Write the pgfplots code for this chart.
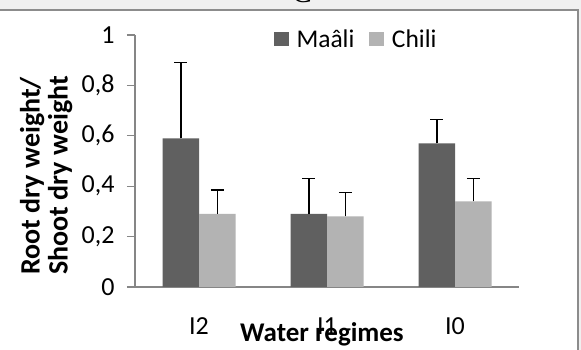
\documentclass[border=0pt]{standalone}
\usepackage{fontspec}
\setmainfont{Carlito}
\newfontfamily\seriffont{Liberation Serif}
\usepackage{pgfplots}
\pgfplotsset{compat=1.18}
\definecolor{dk}{HTML}{606060}
\definecolor{lt}{HTML}{B3B3B3}
\definecolor{ax}{HTML}{868686}
\definecolor{bg}{HTML}{F0F0F0}
\definecolor{fr}{HTML}{8C8C8C}
\pgfplotsset{
  sqlegend/.style={legend image code/.code={\fill[##1] (0pt,-7pt) rectangle (14.5pt,7.5pt);}}
}
\begin{document}
\begin{tikzpicture}[x=1pt,y=1pt]
\clip (0,0) rectangle (581,350);
\fill[bg] (0,0) rectangle (581,350);
\node[anchor=base, inner sep=0pt] at (302,347) {\seriffont\fontsize{30}{30}\selectfont C};
\filldraw[fill=white, draw=fr, line width=2pt] (-5,-10) rectangle (578,339.5);
\begin{axis}[
  at={(135pt,63pt)}, anchor=south west,
  scale only axis, width=384pt, height=252pt,
  xmin=-0.5, xmax=2.5, ymin=0, ymax=1,
  ybar=0pt, bar width=36.5pt,
  axis x line*=bottom, axis y line*=left,
  x axis line style={-}, y axis line style={-},
  axis line style={ax, line width=1.2pt},
  tick align=outside,
  xtick={0,1,2}, xticklabels={I2,I1,I0},
  major x tick style={draw=none},
  extra x ticks={-0.5,0.5,1.5,2.5}, extra x tick labels={},
  extra x tick style={major tick length=9pt, tick style={ax, line width=1.2pt}},
  ytick={0,0.2,0.4,0.6,0.8,1},
  major y tick style={ax, line width=1.2pt},
  major tick length=8pt,
  ticklabel style={font=\fontsize{26}{30}\selectfont, text=black},
  xticklabel style={yshift=-19pt},
  yticklabel style={xshift=-9pt},
  /pgf/number format/.cd, use comma, assume math mode=true, /pgfplots/.cd,
  xlabel={Water regimes},
  xlabel style={font=\bfseries\fontsize{27}{30}\selectfont, at={(axis description cs:0.487,-0.218)}, anchor=base},
  ylabel={Root dry weight/\\Shoot dry weight},
  ylabel style={font=\bfseries\fontsize{28}{28}\selectfont, align=left, inner sep=0pt,
    at={(axis description cs:-0.231,0.048)}, anchor=west},
  legend columns=2,
  legend style={draw=none, fill=none, inner sep=0pt, outer sep=0pt,
    at={(axis description cs:0.362,0.984)}, anchor=west,
    nodes={inner sep=0pt},
    font=\fontsize{25.5}{29}\selectfont,
    /tikz/every odd column/.append style={column sep=8pt},
    /tikz/every even column/.append style={column sep=15pt}},
  sqlegend,
  error bars/y dir=plus, error bars/y explicit,
  error bars/error bar style={black, line width=1.5pt},
  error bars/error mark options={black, line width=1.5pt, mark size=6.3pt, rotate=90},
]
\addplot[fill=dk, draw=none] coordinates {(0,0.59) +- (0,0.30) (1,0.29) +- (0,0.14) (2,0.57) +- (0,0.095)};
\addplot[fill=lt, draw=none] coordinates {(0,0.29) +- (0,0.095) (1,0.28) +- (0,0.095) (2,0.34) +- (0,0.09)};
\legend{Maâli, Chili}
\end{axis}
\end{tikzpicture}
\end{document}
